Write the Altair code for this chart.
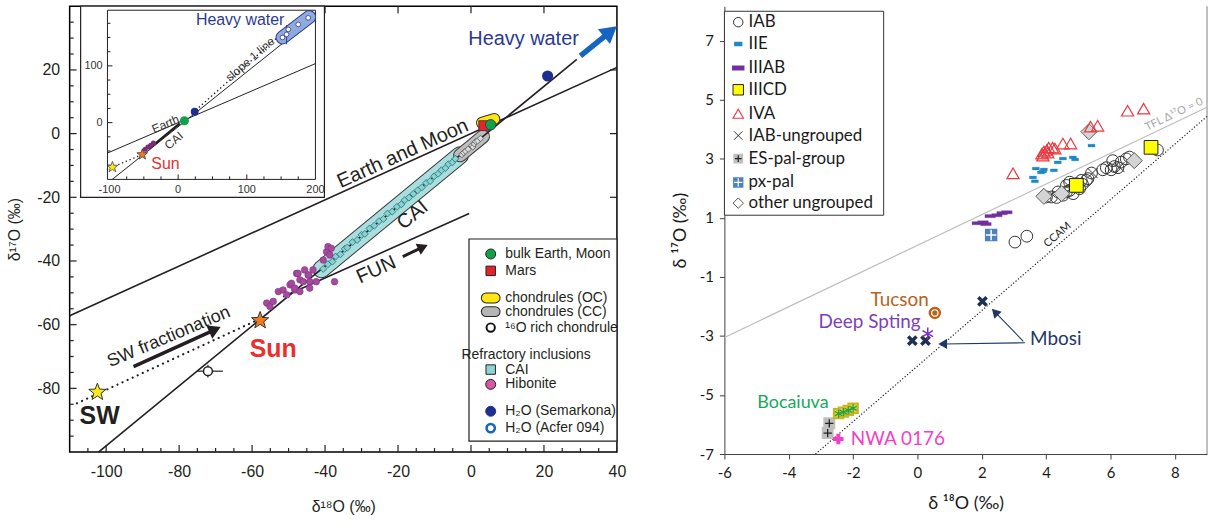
import math
import altair as alt
import pandas as pd

INK = "#231F20"
FL = "Liberation Sans"
FR = "Lato"

# ====================== LEFT PANEL DATA ======================
L_XDOM = [-110, 40]
L_YDOM = [-100, 40]
L_XLAB = [-100, -80, -60, -40, -20, 0, 20, 40]
L_YLAB = [-80, -60, -40, -20, 0, 20]

TFL_X = [-110, 40]
TFL_Y = [-57.2, 20.8]
CCAM_X = [-102.1, 29.0]
CCAM_Y = [-100.0, 23.3]
FUN_X = [-51.5, -0.5]
FUN_Y = [-51.2, -25.1]
SWF_X = [-108.0, -59.0]
SWF_Y = [-84.7, -58.8]
CAI_BAND_X = [-41.0, -3.0]
CAI_BAND_Y = [-42.6, -6.8]
CC_BAND_X = [-3.0, 3.3]
CC_BAND_Y = [-6.8, -0.9]
OC_X = [3.0, 6.4]
OC_Y = [3.4, 4.6]

CAI_X = [-40.5, -39.2, -38.0, -37.1, -35.8, -34.6, -33.9, -32.5, -31.2, -30.0, -29.1,
         -27.8, -26.5, -25.2, -24.0, -22.9, -21.6, -20.3, -19.1, -18.2, -17.0, -15.8,
         -14.6, -13.5, -12.3, -11.2, -10.1, -9.0, -8.1, -7.0, -6.2, -5.1, -4.3]
CAI_Y = [-42.5, -41.0, -40.2, -38.6, -37.9, -36.2, -35.8, -34.1, -33.4, -31.8, -31.5,
         -29.8, -28.9, -27.5, -26.8, -25.1, -24.5, -23.0, -22.2, -20.9, -20.1, -18.9,
         -17.8, -16.9, -15.5, -14.9, -13.4, -12.6, -11.5, -10.8, -9.6, -9.0, -7.9]
CC_X = [-2.5, -2.0, -1.5, -0.8, 0.2, 0.5, 0.9, 1.3, 1.8, 2.6]
CC_Y = [-6.6, -6.0, -5.5, -4.9, -3.8, -4.2, -3.2, -2.5, -2.3, -1.5]
HIB_X = [-56.0, -55.1, -54.2, -52.8, -51.5, -50.5, -49.6, -49.2, -48.3, -48.3, -47.8,
         -47.4, -46.9, -46.9, -46.0, -45.6, -44.6, -44.6, -44.2, -44.2, -43.3, -42.4,
         -40.5, -39.6, -39.2, -38.7, -38.3, -37.4]
HIB_Y = [-53.2, -54.3, -52.7, -49.6, -49.1, -50.6, -47.5, -47.0, -49.1, -48.5, -43.9,
         -43.9, -49.6, -45.9, -46.5, -42.8, -44.4, -44.4, -46.5, -48.5, -42.8, -46.5,
         -39.7, -37.1, -35.5, -38.1, -36.0, -46.5]
EARTH_X, EARTH_Y = [5.4], [2.8]
MARS_X, MARS_Y = [3.5], [2.5]
SEMARKONA_X, SEMARKONA_Y = [21.0], [18.1]
SUN_X, SUN_Y = [-57.8], [-58.7]
SW_X, SW_Y = [-102.4], [-81.2]
O16_X, O16_Y = [-72.1], [-74.6]
O16_XERR = [-75.1, -68.0]
O16_YERR = [-76.6, -72.6]

LEG_L_TEXT = ["bulk Earth, Moon", "Mars", "chondrules (OC)", "chondrules (CC)",
              "¹⁶O rich chondrule", "Refractory inclusions", "CAI", "Hibonite",
              "H₂O (Semarkona)", "H₂O (Acfer 094)"]
LEG_L_TX = [9.4, 9.4, 9.4, 9.4, 9.4, -2.6, 9.4, 9.4, 9.4, 9.4]
LEG_L_Y = [-37.8, -43.1, -51.6, -55.9, -60.9, -69.4, -74.1, -78.75, -87.2, -92.5]
LEG_L_SX = 5.4
LEG_CAPS_X = [4.2, 6.6]

# inset
INS_XDOM = [-103, 200]
INS_YDOM = [-100, 198]
INS_XLAB = [-100, 0, 100, 200]
INS_YLAB = [0, 100]
INS_TFL_X, INS_TFL_Y = [-103, 200], [-53.6, 104]
INS_CCAM_X, INS_CCAM_Y = [-96, 196], [-100, 182]
INS_S1_X, INS_S1_Y = [22, 150], [18, 156]
INS_SWF_X, INS_SWF_Y = [-103, -52], [-82, -56]
INS_CAI_X, INS_CAI_Y = [-42.6, 2.4], [-46.2, -1.3]
INS_HW_X, INS_HW_Y = [152, 191], [150, 186]
INS_HWP_X = [152, 158, 160.4, 174.9, 189.4]
INS_HWP_Y = [150, 155.4, 164.2, 173, 184.6]
INS_HIB_X = [-48, -44, -40, -36]
INS_HIB_Y = [-47, -43, -40, -36]

# ====================== RIGHT PANEL DATA ======================
R_XDOM = [-6, 9]
R_YDOM = [-7, 8.17]
R_XLAB = [-6, -4, -2, 0, 2, 4, 6, 8]
R_YLAB = [-7, -5, -3, -1, 1, 3, 5, 7]
R_TFL_X, R_TFL_Y = [-6, 9], [-3.05, 4.75]
R_CCAM_X, R_CCAM_Y = [-3.17, 9], [-7, 4.44]

IAB_X = [3.03, 3.40, 4.01, 4.17, 4.32, 4.37, 4.53, 4.63, 4.63, 4.73, 4.73, 4.84, 4.94, 5.04,
         5.09, 5.13, 5.25, 5.30, 5.41, 5.76, 5.87, 6.02, 6.07, 6.12, 6.23, 6.33, 6.49, 6.59, 7.46]
IAB_Y = [0.18, 0.38, 1.71, 1.71, 1.69, 1.88, 1.77, 1.88, 2.10, 1.93, 2.21, 1.82, 2.16, 1.99,
         2.27, 2.14, 2.27, 2.33, 2.52, 2.63, 2.70, 2.63, 2.94, 2.74, 2.70, 2.89, 3.00, 3.06, 3.30]
IVA_X = [2.97, 3.87, 3.93, 4.02, 4.08, 4.20, 3.90, 4.05, 4.27, 4.52, 4.76, 5.38, 5.60, 6.53, 7.03]
IVA_Y = [2.51, 3.18, 3.25, 3.30, 3.38, 3.38, 3.11, 3.21, 3.35, 3.52, 3.52, 4.09, 4.12, 4.63, 4.70]
IIE_X = [5.41, 4.83, 4.90, 4.52, 4.36, 4.24, 3.93, 3.84, 3.68, 3.59, 3.65, 3.90]
IIE_Y = [3.45, 3.05, 2.98, 3.01, 2.88, 2.61, 2.64, 2.54, 2.67, 2.37, 2.24, 2.57]
IIIAB_X = [1.86, 2.04, 2.13, 2.26, 2.47, 2.63, 2.78]
IIIAB_Y = [0.82, 0.85, 0.79, 1.06, 1.09, 1.16, 1.19]
IIICD_X, IIICD_Y = [4.94, 7.26], [2.10, 3.39]
OTHER_X, OTHER_Y = [3.93, 4.48, 5.33, 6.74], [1.73, 1.82, 3.92, 2.94]
PXPAL_X, PXPAL_Y = [2.29], [0.42]
ESPAL_X, ESPAL_Y = [-2.74, -2.79], [-5.96, -6.29]
IABU_X, IABU_Y = [5.44, 4.68, 6.28], [2.52, 2.10, 2.72]
MBOSI_X, MBOSI_Y = [-0.16, 0.25, 2.02], [-3.16, -3.16, -1.83]
TUCSON_X, TUCSON_Y = [0.54], [-2.22]
DEEP_X, DEEP_Y = [0.32], [-2.92]
BOCA_X = [-2.45, -2.30, -2.15, -2.00]
BOCA_Y = [-5.63, -5.58, -5.52, -5.45]
NWA_X, NWA_Y = [-2.46], [-6.49]

LEG_R_TEXT = ["IAB", "IIE", "IIIAB", "IIICD", "IVA", "IAB-ungrouped", "ES-pal-group",
              "px-pal", "other ungrouped"]
LEG_R_Y = [7.63, 6.89, 6.08, 5.34, 4.53, 3.79, 3.01, 2.2, 1.5]
LEG_R_SX = -5.57
LEG_R_TX = -5.25

# ====================== SHAPES ======================
def star_path(r_in=0.42):
    p = []
    for k in range(10):
        a = math.radians(-90 + 36 * k)
        r = 1 if k % 2 == 0 else r_in
        p.append(f"{r * math.cos(a):.3f},{r * math.sin(a):.3f}")
    return "M" + "L".join(p) + "Z"

STAR = star_path()
DASH_S = "M-1,-0.4L1,-0.4L1,0.4L-1,0.4Z"
DASH_L = "M-1,-0.3L1,-0.3L1,0.3L-1,0.3Z"
XMARK = "M-1,-1L1,1M-1,1L1,-1"
PLUS = "M0,-1L0,1M-1,0L1,0"
ASTER = "M0,-1L0,1M-0.87,-0.5L0.87,0.5M-0.87,0.5L0.87,-0.5"

# ====================== HELPERS ======================
def pts(X, Y, xs, ys, **mk):
    mk.setdefault("opacity", 1)
    return alt.Chart(pd.DataFrame({"x": xs, "y": ys})).mark_point(**mk).encode(x=X, y=Y)

def line(X, Y, xs, ys, **mk):
    return alt.Chart(pd.DataFrame({"x": xs, "y": ys})).mark_line(**mk).encode(x=X, y=Y)

def seg(X, Y, x1, y1, x2, y2, **mk):
    df = pd.DataFrame({"x": x1, "y": y1, "x2": x2, "y2": y2})
    return alt.Chart(df).mark_rule(**mk).encode(x=X, y=Y, x2="x2:Q", y2="y2:Q")

def box(X, Y, x1, y1, x2, y2, **mk):
    df = pd.DataFrame({"x": [x1], "y": [y1], "x2": [x2], "y2": [y2]})
    return alt.Chart(df).mark_rect(**mk).encode(x=X, y=Y, x2="x2:Q", y2="y2:Q")

def txt(X, Y, xs, ys, texts, **mk):
    df = pd.DataFrame({"x": xs, "y": ys, "t": texts})
    return alt.Chart(df).mark_text(**mk).encode(x=X, y=Y, text="t:N")

# ====================== LEFT PANEL ======================
LX = alt.X("x:Q", scale=alt.Scale(domain=L_XDOM, nice=False, zero=False),
           axis=alt.Axis(values=L_XLAB, ticks=False, domain=False, grid=False,
                         labelExpr="'' + datum.value", labelFont=FL, labelFontSize=16,
                         labelColor=INK, labelPadding=12, labelFlush=False, labelOverlap=False,
                         titleFont=FL, titleFontSize=16, titleFontWeight="normal",
                         titleColor=INK, titlePadding=19),
           title="δ¹⁸O (‰)")
LY = alt.Y("y:Q", scale=alt.Scale(domain=L_YDOM, nice=False, zero=False),
           axis=alt.Axis(values=L_YLAB, ticks=False, domain=False, grid=False,
                         labelExpr="'' + datum.value", labelFont=FL, labelFontSize=16,
                         labelColor=INK, labelPadding=10, labelFlush=False, labelOverlap=False,
                         titleFont=FL, titleFontSize=16, titleFontWeight="normal",
                         titleColor=INK, titlePadding=14),
           title="δ¹⁷O (‰)")

L = []
bx = list(range(-105, 40, 5))
L.append(seg(LX, LY, bx, [-100] * len(bx), bx,
             [-100 + (2.2 if v % 20 == 0 else 1.25) for v in bx], color=INK, strokeWidth=1.2))
ly = list(range(-95, 40, 5))
L.append(seg(LX, LY, [-110] * len(ly), ly,
             [-110 + (1.9 if v % 20 == 0 else 1.1) for v in ly], ly, color=INK, strokeWidth=1.2))
tx = [-100, -80, -60, -40, -20, 0, 20]
L.append(seg(LX, LY, tx, [40] * len(tx), tx, [37.8] * len(tx), color=INK, strokeWidth=1.2))
ty = [-80, -60, -40, -20, 0, 20]
L.append(seg(LX, LY, [40] * len(ty), ty, [38.1] * len(ty), ty, color=INK, strokeWidth=1.2))

L.append(line(LX, LY, TFL_X, TFL_Y, color=INK, strokeWidth=1.6))
L.append(line(LX, LY, FUN_X, FUN_Y, color=INK, strokeWidth=1.6))
L.append(line(LX, LY, SWF_X, SWF_Y, color=INK, strokeWidth=2.2, strokeDash=[0.1, 5.5], strokeCap="round"))
# bands
L.append(line(LX, LY, CAI_BAND_X, CAI_BAND_Y, color="#3a3a3a", strokeWidth=18, strokeCap="round"))
L.append(line(LX, LY, CAI_BAND_X, CAI_BAND_Y, color="#A9DEDF", strokeWidth=16, strokeCap="round"))
L.append(line(LX, LY, CC_BAND_X, CC_BAND_Y, color="#3a3a3a", strokeWidth=14, strokeCap="round"))
L.append(line(LX, LY, CC_BAND_X, CC_BAND_Y, color="#BDBDBD", strokeWidth=12, strokeCap="round"))
L.append(line(LX, LY, CCAM_X, CCAM_Y, color=INK, strokeWidth=1.6))
L.append(pts(LX, LY, CAI_X, CAI_Y, shape="diamond", size=50, filled=True, fill="#86D2D4",
             stroke="#2D6B6D", strokeWidth=0.8))
L.append(pts(LX, LY, CC_X, CC_Y, shape="diamond", size=40, filled=True, fill="#DADADA",
             stroke="#555555", strokeWidth=0.8))
L.append(pts(LX, LY, HIB_X, HIB_Y, shape="circle", size=45, filled=True, fill="#A54A9E",
             stroke="#7A2F75", strokeWidth=0.5))
# OC capsule, Mars, Earth
L.append(line(LX, LY, OC_X, OC_Y, color="#333333", strokeWidth=12, strokeCap="round"))
L.append(line(LX, LY, OC_X, OC_Y, color="#FFE512", strokeWidth=10, strokeCap="round"))
L.append(pts(LX, LY, MARS_X, MARS_Y, shape="square", size=100, filled=True, fill="#E3242B",
             stroke="#333333", strokeWidth=0.8))
L.append(pts(LX, LY, EARTH_X, EARTH_Y, shape="circle", size=110, filled=True, fill="#12A04A",
             stroke="#333333", strokeWidth=0.8))
L.append(pts(LX, LY, SEMARKONA_X, SEMARKONA_Y, shape="circle", size=85, filled=True,
             fill="#1F2F8F", stroke="#1F2F8F"))
# arrows
L.append(seg(LX, LY, [-92.5], [-73.2], [-70.6], [-61.8], color=INK, strokeWidth=3.5))
L.append(pts(LX, LY, [-70.3], [-61.6], shape="triangle-up", size=120, filled=True, fill=INK,
             stroke=INK, angle=65.5))
L.append(seg(LX, LY, [-18.7], [-38.6], [-13.5], [-35.8], color=INK, strokeWidth=3))
L.append(pts(LX, LY, [-13.3], [-35.7], shape="triangle-up", size=75, filled=True, fill=INK,
             stroke=INK, angle=65))
L.append(seg(LX, LY, [30.0], [24.4], [37.2], [31.1], color="#1565C0", strokeWidth=5.5))
L.append(pts(LX, LY, [38.1], [32.0], shape="triangle-up", size=250, filled=True, fill="#1565C0",
             stroke="#1565C0", angle=51))
# 16O rich chondrule with error bars
L.append(seg(LX, LY, [O16_XERR[0]], [O16_Y[0]], [O16_XERR[1]], [O16_Y[0]], color=INK, strokeWidth=1.2))
L.append(seg(LX, LY, [O16_X[0]], [O16_YERR[0]], [O16_X[0]], [O16_YERR[1]], color=INK, strokeWidth=1.2))
L.append(pts(LX, LY, O16_X, O16_Y, shape="circle", size=80, filled=True, fill="white",
             stroke=INK, strokeWidth=1.5))
# stars
L.append(pts(LX, LY, SW_X, SW_Y, shape=STAR, size=330, filled=True, fill="#FFE81A",
             stroke="#333333", strokeWidth=1))
L.append(pts(LX, LY, SUN_X, SUN_Y, shape=STAR, size=330, filled=True, fill="#F07A22",
             stroke="#333333", strokeWidth=1))
# annotations
L.append(txt(LX, LY, [-82.8], [-63.9], ["SW fractionation"], font=FL, fontSize=18, color=INK, angle=337))
L.append(txt(LX, LY, [-101.8], [-88.8], ["SW"], font=FL, fontSize=25, fontWeight="bold", color=INK))
L.append(txt(LX, LY, [-54.2], [-67.8], ["Sun"], font=FL, fontSize=25, fontWeight="bold", color="#E8302E"))
L.append(txt(LX, LY, [-18.7], [-6.3], ["Earth and Moon"], font=FL, fontSize=20, color=INK, angle=335.6))
L.append(txt(LX, LY, [-16.0], [-25.6], ["CAI"], font=FL, fontSize=20, color=INK, angle=320.6))
L.append(txt(LX, LY, [-26.0], [-42.8], ["FUN"], font=FL, fontSize=20, color=INK, angle=335.8))
L.append(txt(LX, LY, [14.4], [29.6], ["Heavy water"], font=FL, fontSize=20, color="#2B3990"))
# legend
L.append(box(LX, LY, -0.55, -33.1, 40, -96.6, fill="white", stroke=INK, strokeWidth=1.2))
LSX = [LEG_L_SX]
L.append(pts(LX, LY, LSX, [LEG_L_Y[0]], shape="circle", size=100, filled=True, fill="#12A04A",
             stroke="#222222", strokeWidth=1))
L.append(pts(LX, LY, LSX, [LEG_L_Y[1]], shape="square", size=90, filled=True, fill="#E3242B",
             stroke="#222222", strokeWidth=1))
for row, col in ((2, "#FFE512"), (3, "#B5B5B5")):
    L.append(line(LX, LY, LEG_CAPS_X, [LEG_L_Y[row]] * 2, color="#222222", strokeWidth=11, strokeCap="round"))
    L.append(line(LX, LY, LEG_CAPS_X, [LEG_L_Y[row]] * 2, color=col, strokeWidth=9, strokeCap="round"))
L.append(pts(LX, LY, LSX, [LEG_L_Y[4]], shape="circle", size=70, filled=True, fill="white",
             stroke="#111111", strokeWidth=2))
L.append(pts(LX, LY, LSX, [LEG_L_Y[6]], shape="square", size=90, filled=True, fill="#8FD3D3",
             stroke="#222222", strokeWidth=1))
L.append(pts(LX, LY, LSX, [LEG_L_Y[7]], shape="circle", size=100, filled=True, fill="#D557A6",
             stroke="#222222", strokeWidth=1))
L.append(pts(LX, LY, LSX, [LEG_L_Y[8]], shape="circle", size=100, filled=True, fill="#1F2F8F",
             stroke="#1F2F8F", strokeWidth=1))
L.append(pts(LX, LY, LSX, [LEG_L_Y[9]], shape="circle", size=70, filled=True, fill="white",
             stroke="#1565C0", strokeWidth=2.5))
L.append(txt(LX, LY, LEG_L_TX, LEG_L_Y, LEG_L_TEXT, font=FL, fontSize=14, color=INK, align="left"))

# ---------- inset ----------
IX = alt.X("x:Q", scale=alt.Scale(domain=INS_XDOM, range=[38, 247], nice=False, zero=False), axis=None)
IY = alt.Y("y:Q", scale=alt.Scale(domain=INS_YDOM, range=[174, 4], nice=False, zero=False), axis=None)
I = []
I.append(box(IX, IY, -142.1, -131.6, 213.1, 205.3, fill="white", stroke=INK, strokeWidth=1.2))
I.append(box(IX, IY, INS_XDOM[0], INS_YDOM[0], INS_XDOM[1], INS_YDOM[1], fill="white",
             fillOpacity=0, stroke=INK, strokeWidth=1))
ibx = [-75, -50, -25, 0, 25, 50, 75, 100, 125, 150, 175]
I.append(seg(IX, IY, ibx, [-100] * len(ibx), ibx,
             [-100 + (8.8 if v % 100 == 0 else 5.3) for v in ibx], color=INK, strokeWidth=1))
iby = [-75, -50, -25, 0, 25, 50, 75, 100, 125, 150, 175]
I.append(seg(IX, IY, [-103] * len(iby), iby,
             [-103 + (7.2 if v % 100 == 0 else 4.3) for v in iby], iby, color=INK, strokeWidth=1))
I.append(txt(IX, IY, INS_XLAB, [-119] * len(INS_XLAB), [str(v) for v in INS_XLAB],
             font=FL, fontSize=11, color="#333333"))
I.append(txt(IX, IY, [-110] * len(INS_YLAB), INS_YLAB, [str(v) for v in INS_YLAB],
             font=FL, fontSize=11, color="#333333", align="right"))
I.append(line(IX, IY, INS_TFL_X, INS_TFL_Y, color=INK, strokeWidth=1))
I.append(line(IX, IY, INS_CCAM_X, INS_CCAM_Y, color=INK, strokeWidth=1))
I.append(line(IX, IY, INS_S1_X, INS_S1_Y, color=INK, strokeWidth=1.5, strokeDash=[0.1, 4], strokeCap="round"))
I.append(line(IX, IY, INS_SWF_X, INS_SWF_Y, color=INK, strokeWidth=1.5, strokeDash=[0.1, 4], strokeCap="round"))
I.append(line(IX, IY, INS_CAI_X, INS_CAI_Y, color=INK, strokeWidth=2.5))
I.append(line(IX, IY, INS_HW_X, INS_HW_Y, color="#2B3990", strokeWidth=14, strokeCap="round"))
I.append(line(IX, IY, INS_HW_X, INS_HW_Y, color="#8FAADC", strokeWidth=12, strokeCap="round"))
I.append(seg(IX, IY, [158], [138], [158], [172], color="#2B3990", strokeWidth=1))
I.append(pts(IX, IY, INS_HWP_X, INS_HWP_Y, shape="circle", size=22, filled=True, fill="white",
             stroke="#2B3990", strokeWidth=0.8))
I.append(pts(IX, IY, INS_HIB_X, INS_HIB_Y, shape="circle", size=10, filled=True, fill="#7A2F75",
             stroke="#7A2F75"))
I.append(pts(IX, IY, [9.1], [3.4], shape="circle", size=50, filled=True, fill="#12A04A",
             stroke="#12A04A"))
I.append(pts(IX, IY, [24.1], [19.2], shape="circle", size=35, filled=True, fill="#1F2F8F",
             stroke="#1F2F8F"))
I.append(pts(IX, IY, [-52.3], [-56.2], shape=STAR, size=130, filled=True, fill="#F07A22",
             stroke="#333333", strokeWidth=0.7))
I.append(pts(IX, IY, [-95.8], [-78.4], shape=STAR, size=130, filled=True, fill="#FFE81A",
             stroke="#333333", strokeWidth=0.7))
I.append(txt(IX, IY, [90.3], [180], ["Heavy water"], font=FL, fontSize=16, color="#2B3990"))
I.append(txt(IX, IY, [104.8], [111.6], ["slope 1 line"], font=FL, fontSize=12, color="#333333", angle=319))
I.append(txt(IX, IY, [-18.5], [-2.7], ["Earth"], font=FL, fontSize=12, color="#333333", angle=337))
I.append(txt(IX, IY, [-6.3], [-31.6], ["CAI"], font=FL, fontSize=12, color="#333333", angle=320))
I.append(txt(IX, IY, [-18.5], [-72.5], ["Sun"], font=FL, fontSize=16, color="#E8302E"))

left = alt.layer(alt.layer(*L), alt.layer(*I)).resolve_scale(
    x="independent", y="independent"
).properties(width=550, height=448, view=alt.ViewBackground(stroke="black", strokeWidth=1.5))

# ====================== RIGHT PANEL ======================
RK = "#1a1a1a"
RX = alt.X("x:Q", scale=alt.Scale(domain=R_XDOM, nice=False, zero=False),
           axis=alt.Axis(values=R_XLAB, tickSize=5, tickColor="#404040", domainColor="#404040",
                         grid=False, labelExpr="'' + datum.value", labelFont=FR, labelFontSize=15,
                         labelColor=RK, labelPadding=7, labelFlush=False, labelOverlap=False,
                         titleFont=FR, titleFontSize=18, titleFontWeight="normal", titleColor=RK,
                         titlePadding=14),
           title="δ ¹⁸O (‰)")
RY = alt.Y("y:Q", scale=alt.Scale(domain=R_YDOM, nice=False, zero=False),
           axis=alt.Axis(values=R_YLAB, tickSize=5, tickColor="#404040", domainColor="#404040",
                         grid=False, labelExpr="'' + datum.value", labelFont=FR, labelFontSize=15,
                         labelColor=RK, labelPadding=6, labelFlush=False, labelOverlap=False,
                         titleFont=FR, titleFontSize=18, titleFontWeight="normal", titleColor=RK,
                         titlePadding=10),
           title="δ ¹⁷O (‰)")
R = []
R.append(seg(RX, RY, [9], [-7], [9], [8.17], color="#7F7F7F", strokeWidth=1))
R.append(line(RX, RY, R_TFL_X, R_TFL_Y, color="#BDBDBD", strokeWidth=1.2))
R.append(line(RX, RY, R_CCAM_X, R_CCAM_Y, color="#222222", strokeWidth=1.2, strokeDash=[1.2, 2]))
R.append(txt(RX, RY, [7.98], [4.5], ["TFL Δ¹⁷O = 0"], font=FR, fontSize=11, color="#A6A6A6", angle=334.5))
R.append(txt(RX, RY, [4.36], [0.42], ["CCAM"], font=FR, fontSize=11, color="#222222", angle=319))
R.append(pts(RX, RY, IIIAB_X, IIIAB_Y, shape=DASH_L, size=110, filled=True, fill="#7030A0",
             stroke="#7030A0", strokeWidth=0.3))
R.append(pts(RX, RY, PXPAL_X, PXPAL_Y, shape="square", size=110, filled=True, fill="#4F81BD",
             stroke="#4F81BD"))
R.append(pts(RX, RY, PXPAL_X, PXPAL_Y, shape=PLUS, size=110, filled=False, stroke="white", strokeWidth=1.5))
R.append(pts(RX, RY, IAB_X, IAB_Y, shape="circle", size=140, filled=False, stroke="#333333", strokeWidth=1))
R.append(pts(RX, RY, IABU_X, IABU_Y, shape=XMARK, size=100, filled=False, stroke="#333333", strokeWidth=1))
R.append(pts(RX, RY, OTHER_X, OTHER_Y, shape="diamond", size=260, filled=True, fill="#D4D4D4",
             stroke="#5A5A5A", strokeWidth=1))
R.append(pts(RX, RY, IIICD_X, IIICD_Y, shape="square", size=190, filled=True, fill="#FFFF00",
             stroke="#222222", strokeWidth=1))
R.append(pts(RX, RY, IIE_X, IIE_Y, shape=DASH_S, size=50, filled=True, fill="#1E88C8",
             stroke="#1E88C8", strokeWidth=0.3))
R.append(pts(RX, RY, IVA_X, IVA_Y, shape="triangle-up", size=150, filled=False, stroke="#E8383F",
             strokeWidth=1.2))
# named meteorites
R.append(pts(RX, RY, ESPAL_X, ESPAL_Y, shape="square", size=100, filled=True, fill="#BFBFBF",
             stroke="#BFBFBF"))
R.append(pts(RX, RY, ESPAL_X, ESPAL_Y, shape=PLUS, size=70, filled=False, stroke="#222222", strokeWidth=1.3))
R.append(pts(RX, RY, BOCA_X, BOCA_Y, shape="square", size=90, filled=True, fill="#E2CC2E",
             stroke="#C9B520"))
R.append(pts(RX, RY, BOCA_X, BOCA_Y, shape=ASTER, size=70, filled=False, stroke="#1FA348", strokeWidth=1.2))
R.append(pts(RX, RY, NWA_X, NWA_Y, shape=PLUS, size=110, filled=False, stroke="#F53DC6", strokeWidth=4))
R.append(pts(RX, RY, MBOSI_X, MBOSI_Y, shape=XMARK, size=70, filled=False, stroke="#1F3050", strokeWidth=3.5))
R.append(pts(RX, RY, TUCSON_X, TUCSON_Y, shape="circle", size=100, filled=True, fill="white",
             stroke="#B8621B", strokeWidth=2.5))
R.append(pts(RX, RY, TUCSON_X, TUCSON_Y, shape="circle", size=10, filled=True, fill="#B8621B",
             stroke="#B8621B"))
R.append(pts(RX, RY, DEEP_X, DEEP_Y, shape=ASTER, size=150, filled=False, stroke="#7B2FD0", strokeWidth=1.5))
R.append(seg(RX, RY, [3.34], [-3.23], [0.8], [-3.27], color="#1F3864", strokeWidth=1.1))
R.append(pts(RX, RY, [0.80], [-3.27], shape="triangle-up", size=45, filled=True, fill="#1F3864",
             stroke="#1F3864", angle=270))
R.append(seg(RX, RY, [3.29], [-3.18], [2.42], [-2.20], color="#1F3864", strokeWidth=1.1))
R.append(pts(RX, RY, [2.42], [-2.20], shape="triangle-up", size=45, filled=True, fill="#1F3864",
             stroke="#1F3864", angle=316))
R.append(txt(RX, RY, [0.35], [-1.77], ["Tucson"], font=FR, fontSize=19, color="#B8621B", align="right"))
R.append(txt(RX, RY, [0.1], [-2.54], ["Deep Spting"], font=FR, fontSize=19, color="#7E3FB5", align="right"))
R.append(txt(RX, RY, [3.5], [-3.12], ["Mbosi"], font=FR, fontSize=19, color="#1F3864", align="left"))
R.append(txt(RX, RY, [-3.87], [-5.26], ["Bocaiuva"], font=FR, fontSize=18, color="#16A85A"))
R.append(txt(RX, RY, [-2.07], [-6.49], ["NWA 0176"], font=FR, fontSize=19, color="#F53DC6", align="left"))
# legend
R.append(box(RX, RY, -6, 8, -1.05, 1.09, fill="white", stroke="#333333", strokeWidth=1))
RSX = [LEG_R_SX]
R.append(pts(RX, RY, RSX, [LEG_R_Y[0]], shape="circle", size=90, filled=False, stroke="#333333", strokeWidth=1))
R.append(pts(RX, RY, RSX, [LEG_R_Y[1]], shape=DASH_S, size=40, filled=True, fill="#1E88C8", stroke="#1E88C8"))
R.append(pts(RX, RY, RSX, [LEG_R_Y[2]], shape=DASH_L, size=110, filled=True, fill="#7030A0", stroke="#7030A0"))
R.append(pts(RX, RY, RSX, [LEG_R_Y[3]], shape="square", size=110, filled=True, fill="#FFFF00",
             stroke="#222222", strokeWidth=1))
R.append(pts(RX, RY, RSX, [LEG_R_Y[4]], shape="triangle-up", size=110, filled=False, stroke="#E8383F",
             strokeWidth=1.1))
R.append(pts(RX, RY, RSX, [LEG_R_Y[5]], shape=XMARK, size=70, filled=False, stroke="#333333", strokeWidth=1))
R.append(pts(RX, RY, RSX, [LEG_R_Y[6]], shape="square", size=60, filled=True, fill="#BFBFBF", stroke="#BFBFBF"))
R.append(pts(RX, RY, RSX, [LEG_R_Y[6]], shape=PLUS, size=45, filled=False, stroke="#222222", strokeWidth=1.2))
R.append(pts(RX, RY, RSX, [LEG_R_Y[7]], shape="square", size=70, filled=True, fill="#4F81BD", stroke="#4F81BD"))
R.append(pts(RX, RY, RSX, [LEG_R_Y[7]], shape=PLUS, size=70, filled=False, stroke="white", strokeWidth=1.2))
R.append(pts(RX, RY, RSX, [LEG_R_Y[8]], shape="diamond", size=110, filled=True, fill="white",
             stroke="#555555", strokeWidth=1))
R.append(txt(RX, RY, [LEG_R_TX] * len(LEG_R_TEXT), LEG_R_Y, LEG_R_TEXT, font=FR, fontSize=17,
             color=RK, align="left"))

right = alt.layer(*R).properties(
    width=485, height=450, view=alt.ViewBackground(stroke=None)
)

chart = alt.hconcat(left, right, spacing=44).properties(
    padding={"left": 6, "top": -13, "right": 0, "bottom": 0}
).configure(background="white")

chart.save("out.html", embed_options={"renderer": "svg", "actions": False})
